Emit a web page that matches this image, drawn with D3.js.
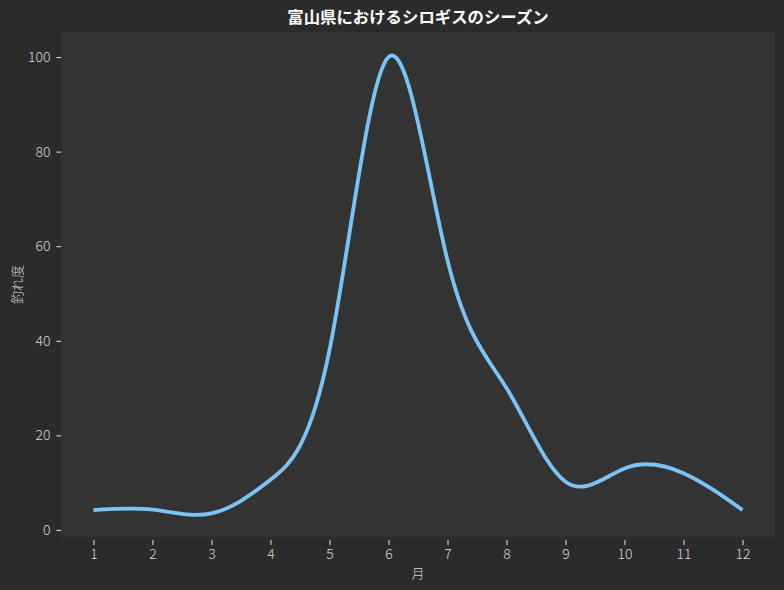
<!DOCTYPE html>
<html><head><meta charset="utf-8">
<script src="https://cdn.jsdelivr.net/npm/d3@7"></script>
<style>
html,body{margin:0;padding:0;background:#2b2b2b;}
text{font-family:"Noto Sans CJK JP","Noto Sans",sans-serif;}
</style></head>
<body>
<svg id="c" width="784" height="590"></svg>
<script>
const months = [1,2,3,4,5,6,7,8,9,10,11,12];
const catchLevel = [4.2,4.3,3.5,10.6,38,100,57,30,10.2,13,12,4.2];
const yTicks = [0,20,40,60,80,100];
const title = "富山県におけるシロギスのシーズン";
const xLabel = "月";
const yLabel = "釣れ度";

const W=784,H=590;
const m={left:61,right:9,top:32,bottom:53};
const svg=d3.select("#c");
svg.append("rect").attr("width",W).attr("height",H).attr("fill","#2b2b2b");
const x=d3.scaleLinear().domain([0.45,12.55]).range([m.left,W-m.right]);
const y=d3.scaleLinear().domain([-1.5,105.3]).range([H-m.bottom,m.top]);
svg.append("rect").attr("x",m.left).attr("y",m.top)
  .attr("width",W-m.left-m.right).attr("height",H-m.top-m.bottom).attr("fill","#333333");

const xa=svg.append("g").attr("transform",`translate(0,${H-m.bottom+3})`)
  .call(d3.axisBottom(x).tickValues(months).tickFormat(d3.format("d")).tickSize(5).tickPadding(4));
const ya=svg.append("g").attr("transform",`translate(${m.left},0)`)
  .call(d3.axisLeft(y).tickValues(yTicks).tickSize(4.5).tickPadding(6));
[xa,ya].forEach(a=>{
  a.select(".domain").remove();
  a.selectAll(".tick line").attr("stroke","#e6e6e6").attr("stroke-width",1);
  a.selectAll(".tick text").attr("fill","#d6d6d6").style("font-size","14px").style("font-weight","300");
});

const line=d3.line().x((d,i)=>x(months[i])).y(d=>y(d)).curve(d3.curveNatural);
svg.append("path").datum(catchLevel).attr("d",line)
  .attr("fill","none").attr("stroke","#7cc3f5").attr("stroke-width",3.8)
  .attr("stroke-linecap","butt").attr("stroke-linejoin","round");

svg.append("text").attr("x",(m.left+W-m.right)/2).attr("y",23).attr("text-anchor","middle")
  .attr("fill","#ffffff").style("font-size","16.4px").style("font-weight","bold").text(title);
svg.append("text").attr("x",(m.left+W-m.right)/2).attr("y",578).attr("text-anchor","middle")
  .attr("fill","#d6d6d6").style("font-size","13px").style("font-weight","300").text(xLabel);
svg.append("text").attr("transform",`translate(22,${(m.top+H-m.bottom)/2}) rotate(-90)`)
  .attr("text-anchor","middle").attr("fill","#d6d6d6").style("font-size","13px").style("font-weight","300").text(yLabel);
</script>
</body></html>
